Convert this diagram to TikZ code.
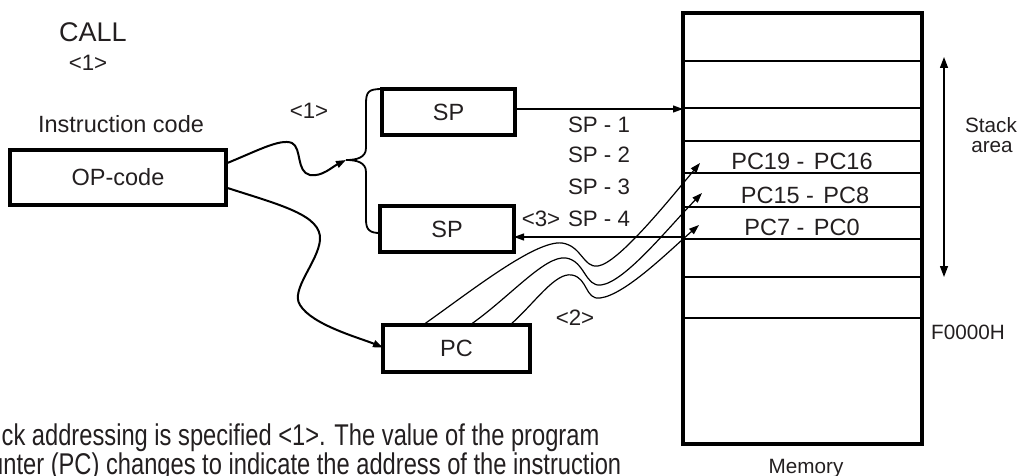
\documentclass[tikz,border=0pt]{standalone}
\usepackage{fontspec}
\setmainfont{Liberation Sans}
\usepackage{graphicx}
\usetikzlibrary{arrows.meta}
\definecolor{txt}{RGB}{35,31,32}
\begin{document}
\begin{tikzpicture}[x=1pt,y=-1pt,
  box/.style={draw=black,line width=4pt,inner sep=0pt,outer sep=0pt,text=txt,font=\fontsize{23.5}{28}\selectfont},
  lbl/.style={inner sep=0pt,anchor=base,text=txt,font=\fontsize{23.5}{28}\selectfont},
  small/.style={lbl,font=\fontsize{22.3}{26}\selectfont},
  mlbl/.style={lbl,font=\fontsize{20.7}{24}\selectfont},
  tip/.style={-{Triangle[length=10pt,width=7pt]}},
  ]
\useasboundingbox (0,0) rectangle (1020,476);
\clip (0,0) rectangle (1020,476);

% boxes
\node[box,minimum width=216pt,minimum height=55pt] (op) at (118,177.5) {OP-code};
\node[box,minimum width=133pt,minimum height=46pt] (sp1) at (448.5,112) {SP};
\node[box,minimum width=134pt,minimum height=46pt] (sp2) at (447,229) {SP};
\node[box,minimum width=147pt,minimum height=47pt] (pc) at (456.5,348.5) {\raisebox{-5pt}{PC}};
\node[draw=black,line width=4pt,inner sep=0pt,outer sep=0pt,minimum width=239pt,minimum height=431pt] (mem) at (802.5,228.5) {};

% memory rows
\foreach \yy/\w in {61/1.3,108/1.3,141/2.6,173/1.5,207/2.6,239/1.5,277/2.6,318/1.5}
  \draw[line width=\w pt] (mem.west |- 0,\yy) -- (mem.east |- 0,\yy);

% texts
\node[lbl,font=\fontsize{27}{30}\selectfont] (call) at (93,42) {CALL};
\node[small] (n1a) at (88,71) {<1>};
\node[lbl] (ic) at (121,133) {Instruction code};
\node[small] (n1b) at (309,119) {<1>};
\node[small] (s1) at (599,132) {SP - 1};
\node[small] (s2) at (599,163) {SP - 2};
\node[small] (s3) at (599,194) {SP - 3};
\node[small] (s4) at (599,226) {SP - 4};
\node[small] (n3) at (541,226) {<3>};
\node[small] (n2) at (575,325) {<2>};
\node[lbl] (r1) at (802,170) {PC19 -\hspace{0.4em}PC16};
\node[lbl] (r2) at (805,203) {PC15 -\hspace{0.4em}PC8};
\node[lbl] (r3) at (802,235) {PC7 -\hspace{0.4em}PC0};
\node[mlbl] (stk) at (991,132) {Stack};
\node[mlbl] (ara) at (992,153) {area};
\node[mlbl] (f0) at (968,339) {F0000H};
\node[mlbl] (memlbl) at (806,473) {Memory};
\node[anchor=base west,inner sep=0pt,text=txt,font=\fontsize{30}{30}\selectfont] (t1) at (1.5,445) {\scalebox{0.79}[1]{ck addressing is specified <1>. The value of the program}};
\node[anchor=base west,inner sep=0pt,text=txt,font=\fontsize{30}{30}\selectfont] (t2) at (-10,474) {\scalebox{0.79}[1]{unter (PC) changes to indicate the address of the instruction}};

% stack area arrow
\coordinate (st1) at (944,57);
\coordinate (st2) at (944,277);
\draw[{Triangle[length=11pt,width=8pt]}-{Triangle[length=11pt,width=8pt]},line width=1.3pt] (st1) -- (st2);

% SP arrows
\draw[tip,line width=1.2pt] ([yshift=3pt]sp1.east) -- ([yshift=3pt]sp1.east -| mem.west);
\draw[tip,line width=1.2pt] ([yshift=-8pt]sp2.east -| mem.west) -- ([yshift=-8pt]sp2.east);

% brace
\coordinate (br) at (346,160);
\draw[line width=1.8pt] (sp1.north west) .. controls (368,89) and (366,92) .. (366,104) -- (366,148)
  .. controls (366,158) and (356,160) .. (br)
  .. controls (356,160) and (366,162) .. (366,172) -- (366,220)
  .. controls (366,230) and (370,233) .. ([yshift=-4pt]sp2.west);

% OP-code connectors
\draw[tip,line width=2pt] ([yshift=14pt]op.east) .. controls (255,152) and (280,138) .. (292,143)
  .. controls (302,148) and (296,172) .. (310,175)
  .. controls (322,177) and (332,167) .. (br);
\draw[tip,line width=2pt] ([yshift=-10pt]op.east) .. controls (280,205) and (322,215) .. (320,240)
  .. controls (318,262) and (290,290) .. (300,305)
  .. controls (312,325) and (360,338) .. ([yshift=1pt]pc.west);

% PC to memory
\coordinate (m1) at (700,163);
\coordinate (m2) at (702,193);
\coordinate (m3) at (699,225);
\draw[tip,line width=1.2pt] ([xshift=-33.5pt]pc.north) .. controls (470,292) and (535,240) .. (562,243)
  .. controls (582,246) and (583,268) .. (598,266)
  .. controls (618,263) and (665,205) .. (m1);
\draw[tip,line width=1.2pt] ([xshift=13.5pt]pc.north) .. controls (510,297) and (545,255) .. (566,258)
  .. controls (585,261) and (585,287) .. (601,285)
  .. controls (625,282) and (668,228) .. (m2);
\draw[tip,line width=1.2pt] ([xshift=53.5pt]pc.north) .. controls (535,303) and (555,272) .. (572,275)
  .. controls (588,278) and (585,300) .. (600,298)
  .. controls (625,295) and (668,252) .. (m3);
\end{tikzpicture}
\end{document}
